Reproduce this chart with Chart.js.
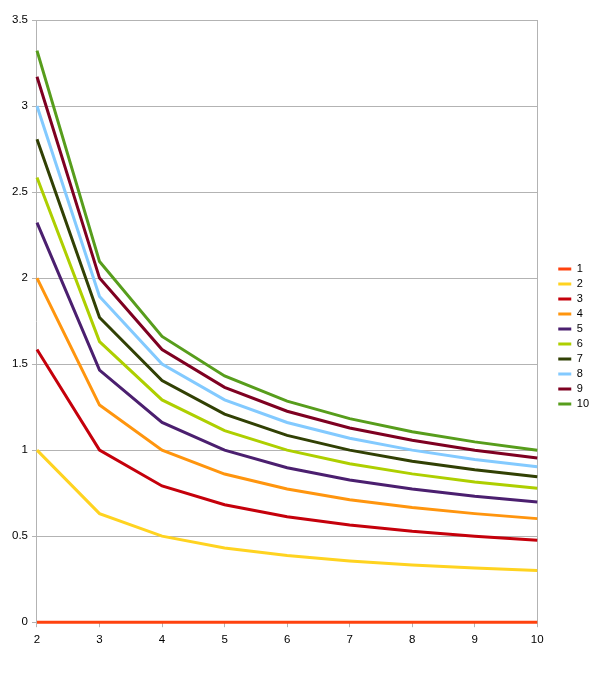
<!DOCTYPE html>
<html>
<head>
<meta charset="utf-8">
<script src="https://cdn.jsdelivr.net/npm/chart.js@4.4.0/dist/chart.umd.min.js"></script>
<style>
  html, body { margin: 0; padding: 0; background: #fff; }
  #wrap { width: 604px; height: 676px; }
</style>
</head>
<body>
<div id="wrap"><canvas id="grafico"></canvas></div>
<script>
// x categories
var categorias = ["2", "3", "4", "5", "6", "7", "8", "9", "10"];

// one array per series
var s1  = [0, 0, 0, 0, 0, 0, 0, 0, 0];
var s2  = [1.000, 0.631, 0.500, 0.431, 0.387, 0.356, 0.333, 0.315, 0.301];
var s3  = [1.585, 1.000, 0.792, 0.683, 0.613, 0.565, 0.528, 0.500, 0.477];
var s4  = [2.000, 1.262, 1.000, 0.861, 0.774, 0.712, 0.667, 0.631, 0.602];
var s5  = [2.322, 1.465, 1.161, 1.000, 0.898, 0.827, 0.774, 0.732, 0.699];
var s6  = [2.585, 1.631, 1.292, 1.113, 1.000, 0.921, 0.862, 0.815, 0.778];
var s7  = [2.807, 1.771, 1.404, 1.209, 1.086, 1.000, 0.936, 0.886, 0.845];
var s8  = [3.000, 1.893, 1.500, 1.292, 1.161, 1.069, 1.000, 0.946, 0.903];
var s9  = [3.170, 2.000, 1.585, 1.365, 1.226, 1.129, 1.057, 1.000, 0.954];
var s10 = [3.322, 2.096, 1.661, 1.431, 1.285, 1.183, 1.107, 1.048, 1.000];

var nomes = ["1", "2", "3", "4", "5", "6", "7", "8", "9", "10"];
var series = [s1, s2, s3, s4, s5, s6, s7, s8, s9, s10];
var cores = ["#ff420e", "#ffd320", "#c5000b", "#ff950e", "#4b1f6f",
             "#aecf00", "#314004", "#83caff", "#7e0021", "#579d1c"];

var cinza = "#b3b3b3";

var datasets = [];
for (var i = 0; i < series.length; i++) {
    datasets.push({
        label: nomes[i],
        data: series[i],
        borderColor: cores[i],
        backgroundColor: cores[i],
        borderWidth: 3,
        pointRadius: 0,
        tension: 0,
        fill: false,
        clip: false
    });
}

Chart.defaults.font.family = "'Liberation Sans', Arial, sans-serif";
Chart.defaults.font.size = 11;
Chart.defaults.color = "#000";

var ctx = document.getElementById("grafico").getContext("2d");
window.meuGrafico = new Chart(ctx, {
    type: "line",
    data: { labels: categorias, datasets: datasets },
    options: {
        responsive: true,
        maintainAspectRatio: false,
        animation: false,
        layout: { padding: { left: 8, top: 20, right: 5, bottom: 23 } },
        plugins: {
            legend: {
                position: "right",
                labels: {
                    boxWidth: 13,
                    boxHeight: 3,
                    padding: 4,
                    color: "#000",
                    generateLabels: function (chart) {
                        var itens = Chart.defaults.plugins.legend.labels.generateLabels(chart);
                        itens.forEach(function (it) { it.lineWidth = 0; });
                        return itens;
                    }
                }
            },
            tooltip: { enabled: false }
        },
        scales: {
            x: {
                offset: false,
                grid: {
                    color: function (c) { return c.index === categorias.length - 1 ? cinza : "transparent"; },
                    tickColor: cinza,
                    tickLength: 5
                },
                border: { color: cinza },
                ticks: { padding: 6, maxRotation: 0, font: { size: 11.5 } }
            },
            y: {
                min: 0,
                max: 3.5,
                ticks: {
                    stepSize: 0.5,
                    padding: 4,
                    font: { size: 11.5 },
                    callback: function (v) { return String(v); }
                },
                grid: { color: cinza, tickColor: cinza, tickLength: 5 },
                border: { color: cinza }
            },
            // empty axis on the right, only to leave room before the legend
            folga: {
                position: "right",
                display: true,
                grid: { display: false },
                border: { display: false },
                ticks: { display: false },
                afterFit: function (s) { s.width = 17; }
            }
        }
    }
});
</script>
</body>
</html>
